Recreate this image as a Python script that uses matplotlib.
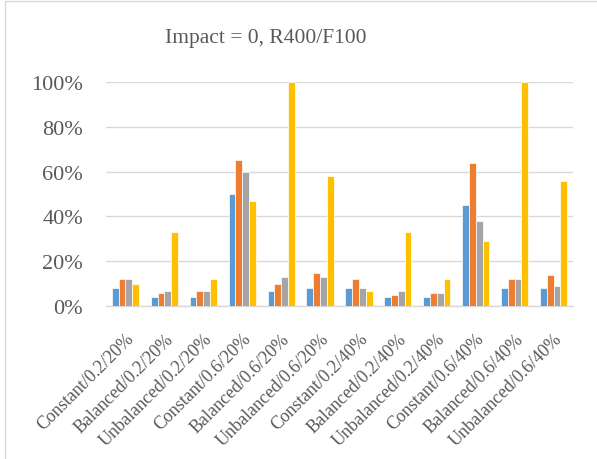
import matplotlib
matplotlib.use("Agg")
import matplotlib.pyplot as plt
import numpy as np
from matplotlib.ticker import PercentFormatter
from matplotlib.patches import Rectangle

categories = ["Constant/0.2/20%", "Balanced/0.2/20%", "Unbalanced/0.2/20%",
              "Constant/0.6/20%", "Balanced/0.6/20%", "Unbalanced/0.6/20%",
              "Constant/0.2/40%", "Balanced/0.2/40%", "Unbalanced/0.2/40%",
              "Constant/0.6/40%", "Balanced/0.6/40%", "Unbalanced/0.6/40%"]
series1 = [8, 4, 4, 50, 7, 8, 8, 4, 4, 45, 8, 8]
series2 = [12, 6, 7, 65, 10, 15, 12, 5, 6, 64, 12, 14]
series3 = [12, 7, 7, 60, 13, 13, 8, 7, 6, 38, 12, 9]
series4 = [10, 33, 12, 47, 100, 58, 7, 33, 12, 29, 100, 56]
colors = ["#5B9BD5", "#ED7D31", "#A5A5A5", "#FFC000"]
yticks = [0, 20, 40, 60, 80, 100]

plt.rcParams['font.family'] = ['Liberation Serif', 'DejaVu Serif']
txt = "#595959"

fig = plt.figure(figsize=(5.97, 4.60), dpi=100)
ax = fig.add_axes([106/597, 1-307.3/460, (573-106)/597, (307.3-82.7)/460])

x = np.arange(len(categories))
w = 0.175
for i, (s, c) in enumerate(zip([series1, series2, series3, series4], colors)):
    ax.bar(x + (i - 1.5) * w, s, width=w, color=c, edgecolor="white", linewidth=0.5, zorder=3)

ax.set_xlim(-0.5, len(categories) - 0.5)
ax.set_ylim(0, 100)
ax.set_yticks(yticks)
ax.yaxis.set_major_formatter(PercentFormatter(decimals=0))
ax.grid(axis="y", color="#D9D9D9", linewidth=1.0, zorder=0)
for sp in ["top", "right", "left"]:
    ax.spines[sp].set_visible(False)
ax.spines["bottom"].set_color("#D9D9D9")
ax.spines["bottom"].set_linewidth(1.0)
ax.tick_params(axis="both", length=0, colors=txt)
ax.tick_params(axis="y", labelsize=16, pad=16.5)
ax.set_xticks(x)
ax.set_xticklabels(categories, rotation=45, ha="right", rotation_mode="anchor", fontsize=13, color=txt)
ax.tick_params(axis="x", pad=17)

fig.text(266/597, 1-39/460, "Impact = 0, R400/F100", ha="center", va="center", fontsize=15.5, color=txt)

fig.patches.append(Rectangle((5/597, -0.1), 1.2, 1-2/460+0.1, transform=fig.transFigure,
                             fill=False, edgecolor="#D9D9D9", linewidth=1.0))

fig.savefig("out.png", dpi=100)
